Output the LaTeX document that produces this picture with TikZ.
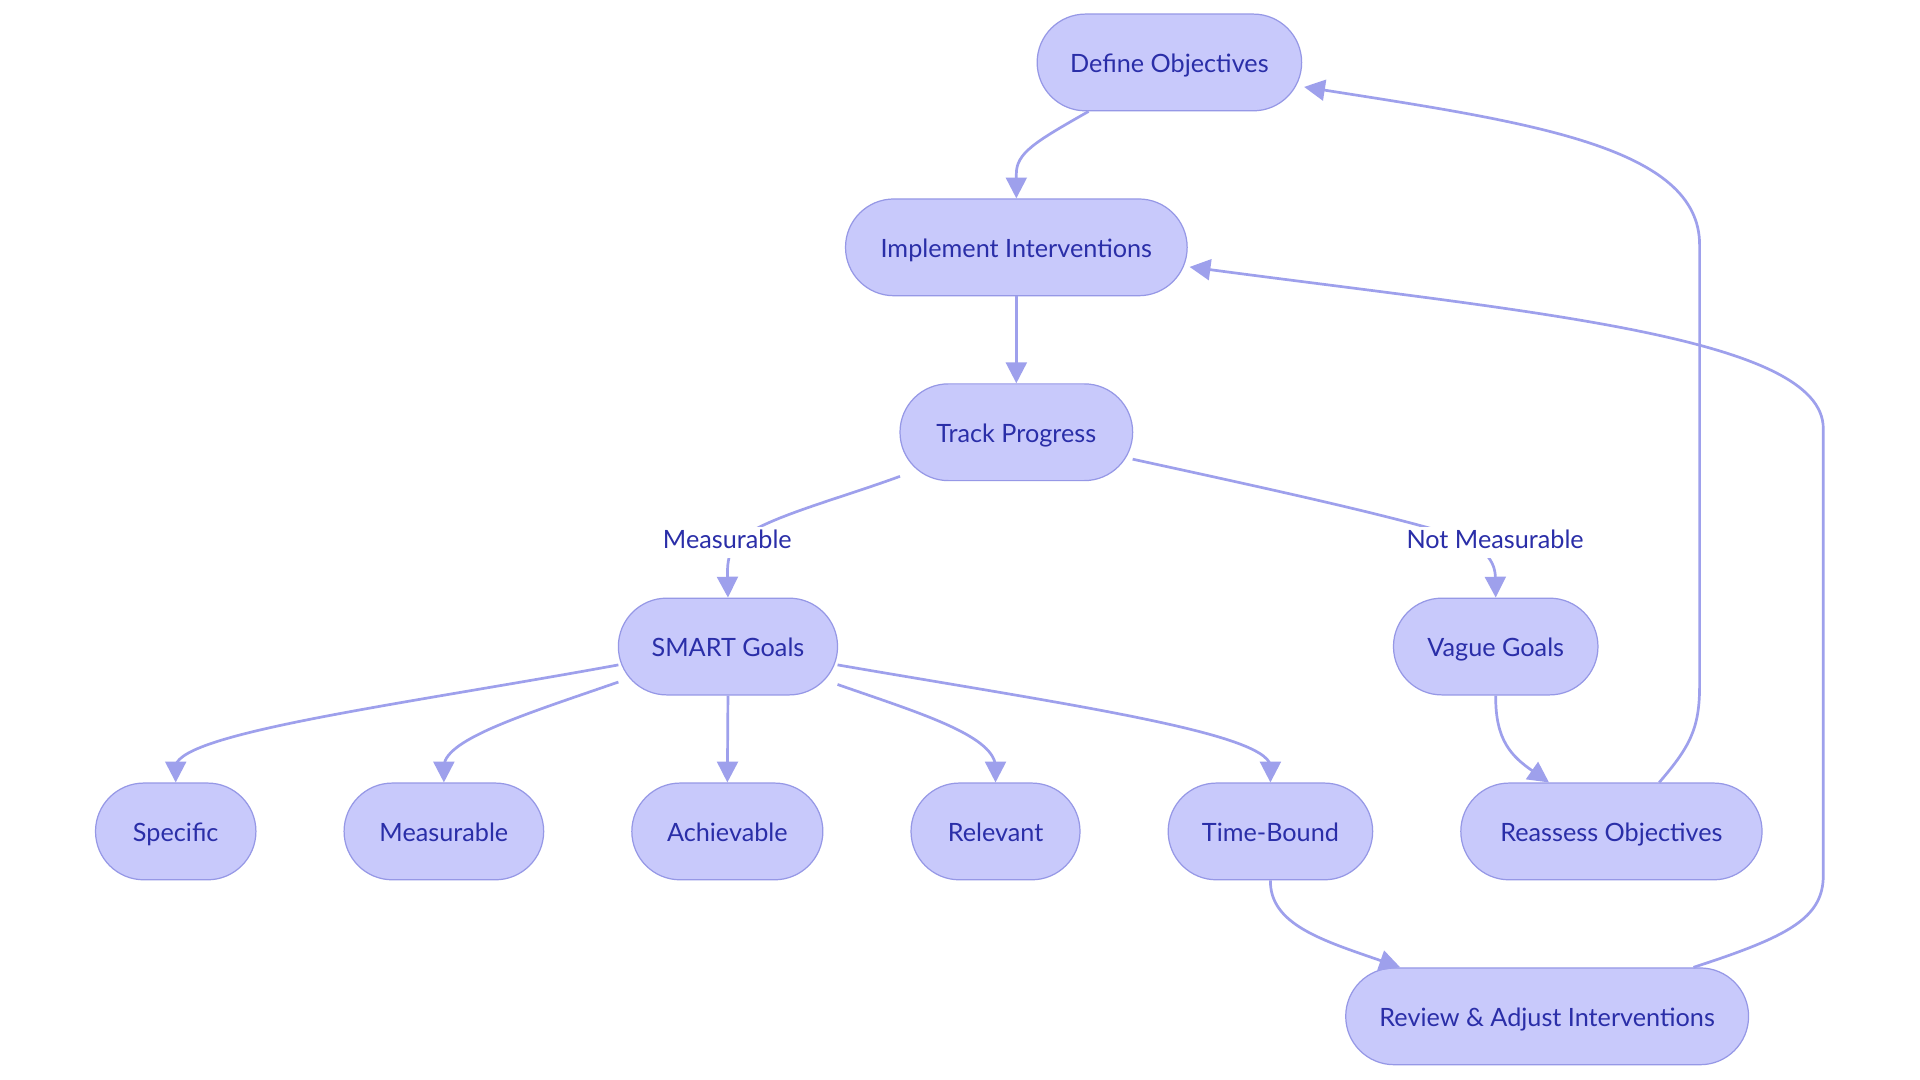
\documentclass[tikz,border=0pt]{standalone}
\usepackage{fontspec}
\setmainfont{Lato}
\usetikzlibrary{arrows.meta,calc}
\definecolor{nfill}{RGB}{200,201,251}
\definecolor{nline}{RGB}{150,152,230}
\definecolor{eline}{RGB}{158,160,236}
\definecolor{ntext}{RGB}{42,46,168}
\tikzset{
  stad/.style={draw=nline, line width=0.5pt, fill=nfill, text=ntext,
    rounded corners=19.75pt, minimum height=39.5pt, inner xsep=0pt,
    text height=8.2pt, text depth=0pt,
    font=\fontsize{10.3}{12}\selectfont},
  edge/.style={draw=eline, line width=1.1pt,
    -{Triangle[length=8.5pt,width=8.5pt]}},
  elabel/.style={fill=white, text=ntext, inner sep=1.5pt,
    text height=7.3pt, text depth=2pt,
    font=\fontsize{10.3}{12}\selectfont}
}
\begin{document}
\begin{tikzpicture}[x=0.5pt,y=-0.5pt]
\useasboundingbox (0,0) rectangle (1568,882);
\fill[white] (0,0) rectangle (1568,882);
% nodes
\node[stad, minimum width=108pt]   (def) at (955,51)   {Define Objectives};
\node[stad, minimum width=139.5pt] (imp) at (830,202)  {Implement Interventions};
\node[stad, minimum width=95pt]    (trk) at (830,353)  {Track Progress};
\node[stad, minimum width=89.5pt]  (sm)  at (594.5,528) {SMART Goals};
\node[stad, minimum width=83.5pt]  (vg)  at (1221.5,528) {Vague Goals};
\node[stad, minimum width=65.5pt]  (sp)  at (143.5,679) {Specific};
\node[stad, minimum width=81.5pt]  (ms)  at (362.5,679) {Measurable};
\node[stad, minimum width=78pt]    (ac)  at (594,679)  {Achievable};
\node[stad, minimum width=69pt]    (rl)  at (813,679)  {Relevant};
\node[stad, minimum width=83.5pt]  (tb)  at (1037.5,679) {Time-Bound};
\node[stad, minimum width=123pt]   (ra)  at (1316,679) {Reassess Objectives};
\node[stad, minimum width=164.5pt] (rv)  at (1263.5,830) {Review \& Adjust Interventions};
% edges
\draw[edge] ($(def.center)+(-66,40)$) .. controls (845,116) and (830,125) .. (830,142) -- (imp.north);
\draw[edge] (imp.south) -- (trk.north);
\draw[edge] ($(trk.center)+(-95,36)$) .. controls (675,411) and (604,428) .. (597,450)
   .. controls (594,458) and (594,465) .. (sm.north);
\draw[edge] ($(trk.center)+(95,22)$) .. controls (1040,400) and (1140,422) .. (1190,438)
   .. controls (1212,447) and (1221,458) .. (vg.north);
\node[elabel] (lm) at (594,443) {Measurable};
\node[elabel] (ln) at (1221,443) {Not Measurable};
\draw[edge] ($(sm.center)+(-89.5,15)$) .. controls (330,575) and (150,598) .. (143.5,625) -- (sp.north);
\draw[edge] ($(sm.center)+(-89.5,29)$) .. controls (430,583) and (365,603) .. (362.5,625) -- (ms.north);
\draw[edge] (sm.south) -- (ac.north);
\draw[edge] ($(sm.center)+(89.5,31)$) .. controls (750,582) and (810,600) .. (813,625) -- (rl.north);
\draw[edge] ($(sm.center)+(89.5,15)$) .. controls (870,575) and (1032,598) .. (1037.5,625) -- (tb.north);
\draw[edge] (vg.south) .. controls (1221,605) and (1235,618) .. ($(ra.center)+(-51,-40)$);
\draw[edge] (tb.south) .. controls (1037,755) and (1080,768) .. ($(rv.center)+(-120,-40)$);
\draw[edge] ($(ra.center)+(39,-40)$) .. controls (1380,610) and (1388,595) .. (1388,560)
   -- (1388,200) .. controls (1388,120) and (1250,100) .. ($(def.center)+(110,20)$);
\draw[edge] ($(rv.center)+(119.5,-40)$) .. controls (1460,765) and (1489,750) .. (1489,715)
   -- (1489,350) .. controls (1489,275) and (1250,255) .. ($(imp.center)+(141.5,16)$);
\end{tikzpicture}
\end{document}
